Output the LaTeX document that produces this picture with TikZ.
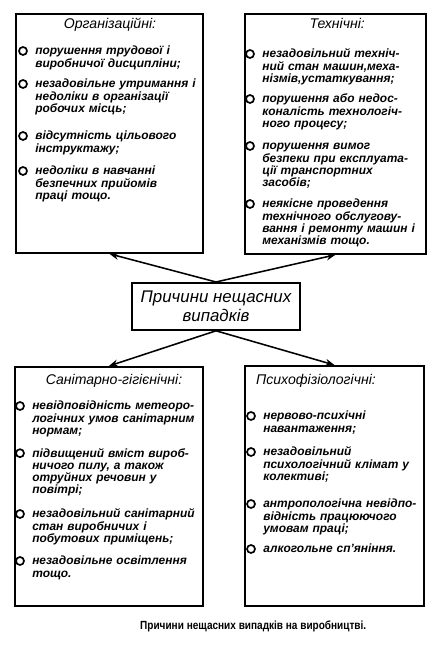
\documentclass[tikz,border=0pt]{standalone}
\usepackage{fontspec}
\setmainfont{Liberation Sans}
\newfontfamily\capfont[FakeStretch=0.85]{Liberation Sans}
\usetikzlibrary{arrows.meta}

\begin{document}
\begin{tikzpicture}[
    box/.style={draw, line width=1.3pt, anchor=north west, inner sep=0},
    head/.style={anchor=base, font=\fontsize{10}{11}\selectfont\itshape},
    item/.style={anchor=base west, text width=4.5cm, align=left, inner sep=0,
        font=\fontsize{8.5}{8.7}\selectfont\bfseries\itshape},
    bul/.style={line width=1.2pt},
    arr/.style={line width=1.1pt, -{Stealth[length=2.3mm,width=1.8mm]}}]
    \useasboundingbox (0,0) rectangle (11.05,16.15);

    % four groups of causes
    \node[box, minimum width=4.675cm, minimum height=5.975cm] (org) at (0.375,15.825) {};
    \node[box, minimum width=4.525cm, minimum height=6.0cm] (tech) at (6.1,15.825) {};
    \node[box, minimum width=4.7cm, minimum height=5.975cm] (san) at (0.35,7.0) {};
    \node[box, minimum width=4.475cm, minimum height=6.0cm] (psy) at (6.1,7.025) {};

    \node[draw, line width=1.3pt, minimum width=4.2cm, minimum height=1.175cm, align=center,
        font=\fontsize{12}{13.5}\selectfont\itshape] (cause) at (5.4,8.49) {Причини нещасних\\випадків};

    \node[head] (orgh) at (2.75,15.425) {Організаційні:};
    \node[head] (techh) at (8.43,15.425) {Технічні:};
    \node[head] (sanh) at (2.85,6.525) {Санітарно-гігієнічні:};
    \node[head] (psyh) at (7.9,6.525) {Психофізіологічні:};

    % organisational
    \node[item] (o1) at (0.875,14.775) {порушення трудової і\\виробничої дисципліни;};
    \node[item] (o2) at (0.875,13.95) {незадовільне утримання і\\недоліки в організації\\робочих місць;};
    \node[item] (o3) at (0.875,12.65) {відсутність цільового\\інструктажу;};
    \node[item] (o4) at (0.875,11.775) {недоліки в навчанні\\безпечних прийомів\\праці тощо.};

    % technical
    \node[item] (t1) at (6.55,14.7) {незадовільний техніч-\\ний стан машин,меха-\\нізмів,устаткування;};
    \node[item] (t2) at (6.55,13.575) {порушення або недос-\\коналість технологіч-\\ного процесу;};
    \node[item] (t3) at (6.55,12.4) {порушення вимог\\безпеки при експлуата-\\ції транспортних\\засобів;};
    \node[item] (t4) at (6.55,10.95) {неякісне проведення\\технічного обслугову-\\вання і ремонту машин і\\механізмів тощо.};

    % sanitary
    \node[item] (s1) at (0.8,5.9) {невідповідність метеоро-\\логічних умов санітарним\\нормам;};
    \node[item] (s2) at (0.8,4.72) {підвищений вміст вироб-\\ничого пилу, а також\\отруйних речовин у\\повітрі;};
    \node[item] (s3) at (0.8,3.2) {незадовільний санітарний\\стан виробничих і\\побутових приміщень;};
    \node[item] (s4) at (0.8,2.025) {незадовільне освітлення\\тощо.};

    % psychophysiological
    \node[item] (p1) at (6.575,5.65) {нервово-психічні\\навантаження;};
    \node[item] (p2) at (6.575,4.75) {незадовільний\\психологічний клімат у\\колективі;};
    \node[item] (p3) at (6.575,3.45) {антропологічна невідпо-\\відність працюючого\\умовам праці;};
    \node[item] (p4) at (6.575,2.325) {алкогольне сп'яніння.};

    \foreach \n in {o1,o2,o3,o4,t1,t2,t3,t4,s1,s2,s3,s4,p1,p2,p3,p4}
        \draw[bul] ([shift={(-0.3,0.1)}]\n.base west) circle (0.1);

    \draw[arr] (cause.north) -- (org.south);
    \draw[arr] (cause.north) -- (tech.south);
    \draw[arr] (cause.south) -- (san.north);
    \draw[arr] (cause.south) -- (psy.north);

    \node[font=\capfont\fontsize{8.4}{9}\selectfont\bfseries] (capt) at (6.33,0.5)
        {Причини нещасних випадків на виробництві.};
\end{tikzpicture}
\end{document}
